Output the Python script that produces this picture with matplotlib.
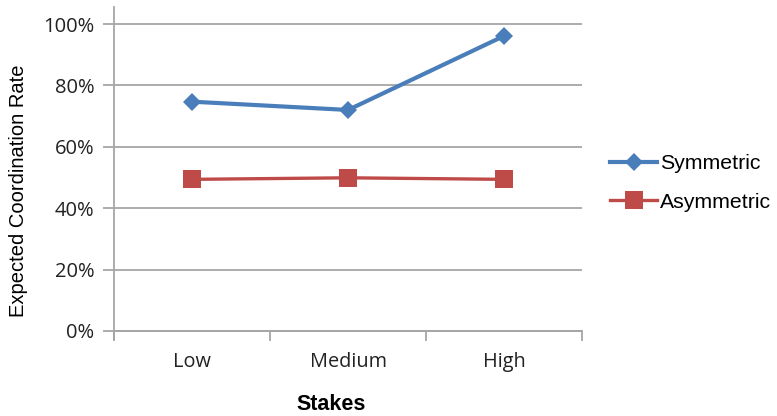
import matplotlib
matplotlib.use("Agg")
import matplotlib.pyplot as plt
from matplotlib.ticker import PercentFormatter

categories = ["Low", "Medium", "High"]
symmetric = [0.747, 0.720, 0.961]
asymmetric = [0.494, 0.499, 0.494]
yticks = [0, 0.2, 0.4, 0.6, 0.8, 1.0]

W, H = 777, 416
fig = plt.figure(figsize=(W / 100, H / 100), dpi=100)
left, right, y0, ytop = 114, 582, 331, 7
ppu = (y0 - 24)
ymax = (y0 - ytop) / ppu
ymin = -8 / ppu
ax = fig.add_axes([left / W, (H - y0 - 8) / H, (right - left) / W, (y0 + 8 - ytop) / H])
ax.set_ylim(ymin, ymax)
ax.set_xlim(-0.5, 2.5)

grid_c = "#A6A6A6"
x = list(range(len(categories)))
for t in yticks:
    ax.axhline(t, color=grid_c, lw=1.3, zorder=1)

ax.plot(x, symmetric, color="#4A7EBB", lw=3.0, marker="D", markersize=9.5,
        markeredgewidth=0, label="Symmetric", zorder=3, solid_joinstyle="round")
ax.plot(x, asymmetric, color="#BE4B48", lw=2.4, marker="s", markersize=13,
        markeredgewidth=0, label="Asymmetric", zorder=3)

for s in ["top", "right"]:
    ax.spines[s].set_visible(False)
ax.spines["left"].set_color(grid_c)
ax.spines["left"].set_linewidth(1.3)
ax.spines["bottom"].set_color(grid_c)
ax.spines["bottom"].set_linewidth(1.3)
ax.spines["bottom"].set_position(("data", 0))

ax.set_yticks(yticks)
ax.yaxis.set_major_formatter(PercentFormatter(1.0, decimals=0))
ax.tick_params(axis="y", length=8, color=grid_c, width=1.3, labelsize=14.5,
               labelcolor="#222222", pad=6)
ax.set_xticks([-0.5, 0.5, 1.5, 2.5])
ax.set_xticklabels([])
ax.tick_params(axis="x", which="major", length=7, color=grid_c, width=1.3)
ax.set_xticks(x, minor=True)
ax.set_xticklabels(categories, minor=True)
ax.tick_params(axis="x", which="minor", length=0, labelsize=14.3,
               labelcolor="#222222", pad=15)
for lab in ax.get_yticklabels() + ax.get_xticklabels(minor=True):
    lab.set_family("Open Sans")

fig.text(331 / W, (H - 404) / H, "Stakes", fontsize=15.5, fontweight="bold",
         family="Liberation Sans", ha="center", va="center")
fig.text(19 / W, (H - 191) / H, "Expected Coordination Rate", fontsize=14.5,
         family="Liberation Sans", ha="center", va="center", rotation=90)

leg = fig.legend(loc="center left", bbox_to_anchor=(591 / W, (H - 183) / H),
                 frameon=False, prop={"family": "Liberation Sans", "size": 15.3},
                 handlelength=2.2, handletextpad=0.15, labelspacing=0.9)

fig.savefig("out.png", dpi=100)
